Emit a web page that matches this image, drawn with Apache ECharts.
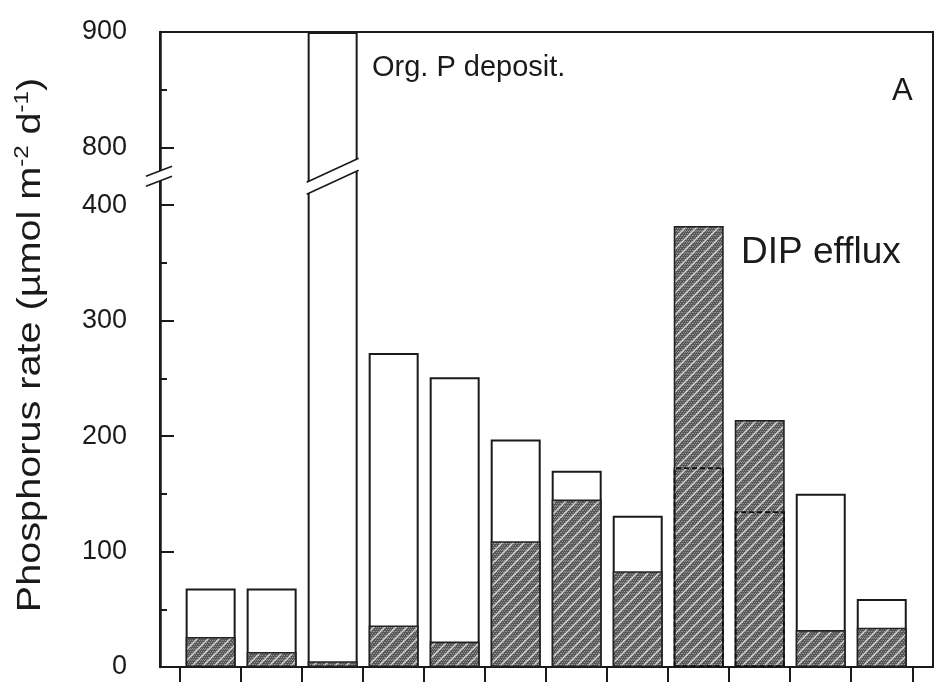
<!DOCTYPE html>
<html>
<head>
<meta charset="utf-8">
<script src="https://cdn.jsdelivr.net/npm/echarts@6/dist/echarts.min.js"></script>
<style>
  html, body { margin: 0; padding: 0; background: #fff; }
  #chart { width: 943px; height: 692px; }
</style>
</head>
<body>
<div id="chart"></div>
<script>
// Stations along the transect (one bar pair per station)
const stations = [1, 2, 3, 4, 5, 6, 7, 8, 9, 10, 11, 12];
// Organic P deposition, µmol m-2 d-1 (station 3 runs off the top of the axis)
const orgPDeposition = [68, 68, 900, 272, 251, 197, 170, 131, 173, 135, 150, 59];
// Dissolved inorganic P efflux, µmol m-2 d-1
const dipEfflux = [26, 13, 5, 36, 22, 109, 145, 83, 382, 214, 32, 34];
// Tick labels of the broken y axis
const yMajorTicks = [0, 100, 200, 300, 400, 800, 900];
const yMinorTicks = [50, 150, 250, 350, 850];

// Broken axis: 0–400 and 800–900 share one scale, with a short gap between
const BREAK_LOW = 400, BREAK_HIGH = 800, BREAK_GAP = 50;
function toAxis(v) { return v <= BREAK_LOW ? v : v - (BREAK_HIGH - BREAK_LOW) + BREAK_GAP; }
function fromAxis(t) { return t <= BREAK_LOW ? t : t + (BREAK_HIGH - BREAK_LOW) - BREAK_GAP; }
const AXIS_MAX = toAxis(900);

const FONT = '"Liberation Sans", Arial, Helvetica, sans-serif';
const INK = '#1a1a1a';

// Dark stippled fill crossed by light diagonal strokes
function hatchPattern() {
  const s = 11;
  const c = document.createElement('canvas');
  c.width = s; c.height = s;
  const g = c.getContext('2d');
  g.fillStyle = '#585858';
  g.fillRect(0, 0, s, s);
  g.fillStyle = '#969696';
  for (let y = 0; y < s; y += 2) {
    for (let x = (y / 2) % 2; x < s; x += 2) g.fillRect(x, y, 1, 1);
  }
  g.strokeStyle = '#d6d6d6';
  g.lineWidth = 1.4;
  g.beginPath(); g.moveTo(-1, s + 1); g.lineTo(s + 1, -1); g.stroke();
  g.beginPath(); g.moveTo(-1, 1); g.lineTo(1, -1); g.stroke();
  g.beginPath(); g.moveTo(s - 1, s + 1); g.lineTo(s + 1, s - 1); g.stroke();
  return c;
}
const hatchFill = { image: hatchPattern(), repeat: 'repeat' };

const BAR_W = 50;
const orgData = stations.map((s, i) => [s, toAxis(orgPDeposition[i])]);
const dipData = stations.map((s, i) => [s, toAxis(dipEfflux[i])]);
// Where efflux exceeds deposition, the deposition level is traced as a dashed outline
const hiddenOrgData = stations.map((s, i) =>
  orgPDeposition[i] < dipEfflux[i] ? [s, toAxis(orgPDeposition[i])] : [s, '-']);

const chart = echarts.init(document.getElementById('chart'), null, { renderer: 'canvas' });

chart.setOption({
  animation: false,
  backgroundColor: '#fff',
  grid: {
    left: 160, right: 10, top: 32, bottom: 25,
    show: true, borderColor: INK, borderWidth: 2,
    containLabel: false, outerBoundsMode: 'none'
  },
  xAxis: {
    type: 'value', min: 0.17, max: 12.84,
    axisLine: { show: true, lineStyle: { color: INK, width: 2 } },
    axisTick: {
      show: true, inside: false, length: 15,
      customValues: stations.map(s => s - 0.5).concat([stations.length + 0.5]),
      lineStyle: { color: INK, width: 2 }
    },
    axisLabel: { show: false },
    splitLine: { show: false }
  },
  yAxis: [
    {
      type: 'value', min: 0, max: AXIS_MAX, position: 'left',
      axisLine: { show: true, lineStyle: { color: INK, width: 2.5 } },
      axisTick: {
        show: true, inside: true, length: 14,
        customValues: yMajorTicks.map(toAxis),
        lineStyle: { color: INK, width: 2 }
      },
      axisLabel: {
        show: true, margin: 33,
        customValues: yMajorTicks.map(toAxis),
        formatter: t => String(Math.round(fromAxis(t))),
        fontFamily: FONT, fontSize: 27, color: INK
      },
      splitLine: { show: false }
    },
    {
      type: 'value', min: 0, max: AXIS_MAX, position: 'left',
      axisLine: { show: false },
      axisTick: {
        show: true, inside: true, length: 7,
        customValues: yMinorTicks.map(toAxis),
        lineStyle: { color: INK, width: 2 }
      },
      axisLabel: { show: false },
      splitLine: { show: false }
    }
  ],
  series: [
    {
      name: 'Org. P deposit.', type: 'bar', data: orgData,
      barWidth: BAR_W, barGap: '-100%', z: 2,
      itemStyle: { color: '#ffffff', borderColor: INK, borderWidth: 2 }
    },
    {
      name: 'DIP efflux', type: 'bar', data: dipData,
      barWidth: BAR_W, barGap: '-100%', z: 3,
      itemStyle: { color: hatchFill, borderColor: '#222', borderWidth: 1.6 }
    },
    {
      name: 'Org. P level', type: 'bar', data: hiddenOrgData,
      barWidth: BAR_W, barGap: '-100%', z: 4,
      itemStyle: {
        color: 'rgba(0,0,0,0)', borderColor: '#111', borderWidth: 1.8,
        borderType: [5, 3]
      }
    }
  ]
});

// Annotations and the axis-break marks, placed from the chart's own coordinates
function breakMark(cx, cy, halfW, rise, sep) {
  const p = (dx, dy) => [cx + dx, cy + dy];
  return [
    {
      type: 'polygon', z: 50,
      shape: { points: [p(-halfW, rise - sep), p(halfW, -rise - sep), p(halfW, -rise + sep), p(-halfW, rise + sep)] },
      style: { fill: '#fff', stroke: null }
    },
    {
      type: 'polyline', z: 51,
      shape: { points: [p(-halfW, rise - sep), p(halfW, -rise - sep)] },
      style: { stroke: INK, lineWidth: 1.6, fill: null }
    },
    {
      type: 'polyline', z: 51,
      shape: { points: [p(-halfW, rise + sep), p(halfW, -rise + sep)] },
      style: { stroke: INK, lineWidth: 1.6, fill: null }
    }
  ];
}

const breakMid = (BREAK_LOW + toAxis(BREAK_HIGH)) / 2;
const tallIdx = orgPDeposition.indexOf(Math.max(...orgPDeposition));
const barBreak = chart.convertToPixel({ xAxisIndex: 0, yAxisIndex: 0 }, [stations[tallIdx], breakMid]);
const axisBreak = chart.convertToPixel({ xAxisIndex: 0, yAxisIndex: 0 }, [0.17, breakMid]);

chart.setOption({
  graphic: [
    ...breakMark(barBreak[0], barBreak[1], BAR_W / 2 + 1, 12, 6),
    ...breakMark(axisBreak[0] - 1, axisBreak[1], 13, 5, 5),
    {
      type: 'text', z: 60, left: 372, top: 53,
      style: { text: 'Org. P deposit.', font: '29px ' + FONT, fill: INK }
    },
    {
      type: 'text', z: 60, left: 892, top: 76,
      style: { text: 'A', font: '31px ' + FONT, fill: INK }
    },
    {
      type: 'text', z: 60, left: 741, top: 234,
      style: { text: 'DIP efflux', font: '37px ' + FONT, fill: INK }
    },
    {
      type: 'text', z: 60, x: 31, y: 345, rotation: Math.PI / 2, scaleX: 1.2,
      style: {
        text: '{a|Phosphorus rate (µmol m}{s|-2}{a| d}{s|-1}{a|)}',
        align: 'center', verticalAlign: 'middle',
        rich: {
          a: { fontFamily: FONT, fontSize: 33, lineHeight: 37, fill: INK },
          s: { fontFamily: FONT, fontSize: 20, lineHeight: 22, verticalAlign: 'top', fill: INK }
        }
      }
    }
  ]
});
</script>
</body>
</html>
